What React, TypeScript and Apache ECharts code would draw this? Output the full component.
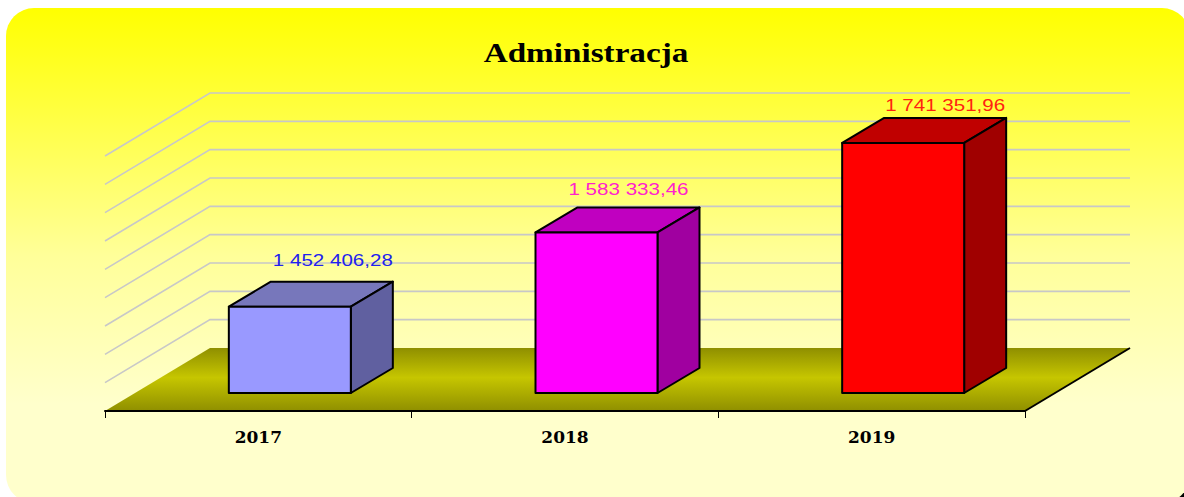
import React, { useEffect, useRef } from "react";
import * as echarts from "echarts";

const title = "Administracja";
const categories = ["2017", "2018", "2019"];
const values = [1452406.28, 1583333.46, 1741351.96];
const valueLabels = ["1 452 406,28", "1 583 333,46", "1 741 351,96"];
const frontColors = ["#9999ff", "#ff00ff", "#ff0000"];
const topColors = ["#7777bb", "#c000c0", "#c00000"];
const sideColors = ["#6060a0", "#a000a0", "#a00000"];
const labelColors = ["#2222ee", "#ff22cc", "#ff2211"];
const gridValues = [1350000, 1400000, 1450000, 1500000, 1550000, 1600000, 1650000, 1700000, 1750000];
const axisMin = 1300000;
const axisMax = 1750000;

const DX = 105;
const DY = -63;
const BAR_DX = 31.5;
const BAR_DY = -18;
const BAR_DEPTH_X = 42;
const BAR_DEPTH_Y = -25;
const BAR_W = 122;
const LINE = "#000000";
const LABEL_SHIFT_X = [43, 32, 42];
const LABEL_SHIFT_Y = [-21, -18, -13];

export default function App() {
  const ref = useRef<HTMLDivElement>(null);
  useEffect(() => {
    const chart = echarts.init(ref.current!, null, { renderer: "svg" });
    chart.setOption({
      animation: false,
      backgroundColor: "#ffffff",
      grid: { left: 105, right: 159, top: 156, bottom: 86 },
      graphic: [
        {
          type: "rect",
          z: -11,
          silent: true,
          shape: { x: 1170, y: 483, width: 14, height: 14 },
          style: { fill: "#000000" },
        },
        {
          type: "rect",
          z: -10,
          silent: true,
          shape: { x: 6, y: 8, width: 1184, height: 495, r: 28 },
          style: {
            fill: new echarts.graphic.LinearGradient(0, 0, 0, 1, [
              { offset: 0, color: "#ffff00" },
              { offset: 0.5, color: "#ffff99" },
              { offset: 0.8, color: "#ffffcc" },
              { offset: 1, color: "#ffffcc" },
            ]),
          },
        },
        {
          type: "text",
          x: 586,
          y: 53,
          scaleX: 1.186,
          z: 10,
          silent: true,
          style: {
            text: title,
            fill: "#000000",
            font: "bold 28px 'Liberation Serif'",
            textAlign: "center",
            textVerticalAlign: "middle",
          },
        },
      ],
      xAxis: {
        type: "category",
        data: categories,
        boundaryGap: true,
        axisLine: { show: true, lineStyle: { color: LINE, width: 2 } },
        axisTick: { show: true, length: 7, lineStyle: { color: LINE, width: 1 }, alignWithLabel: false },
        axisLabel: {
          margin: 17,
          color: "#000000",
          fontFamily: "DejaVu Serif",
          fontWeight: "bold",
          fontSize: 17,
        },
        z: 5,
      },
      yAxis: {
        type: "value",
        min: axisMin,
        max: axisMax,
        interval: 50000,
        show: false,
      },
      series: [
        {
          type: "custom",
          name: "floor",
          coordinateSystem: "cartesian2d",
          data: [[0, axisMin]],
          z: 1,
          silent: true,
          renderItem: (_p: any, api: any) => {
            const o = api.coord([0, axisMin]);
            const w = api.size([1, 0])[0] * categories.length;
            const x0 = o[0] - api.size([1, 0])[0] / 2;
            const y0 = o[1];
            return {
              type: "group",
              children: [
                {
                  type: "polygon",
                  shape: { points: [[x0, y0], [x0 + DX, y0 + DY], [x0 + DX + w, y0 + DY], [x0 + w, y0]] },
                  style: {
                    fill: new echarts.graphic.LinearGradient(0, 0, 0, 1, [
                      { offset: 0, color: "#8f8f00" },
                      { offset: 0.47, color: "#c6c600" },
                      { offset: 1, color: "#8f8f00" },
                    ]),
                  },
                },
                {
                  type: "line",
                  shape: { x1: x0 + w, y1: y0, x2: x0 + w + DX, y2: y0 + DY },
                  style: { stroke: LINE, lineWidth: 2 },
                },
              ],
            };
          },
        },
        {
          type: "custom",
          name: "grid",
          coordinateSystem: "cartesian2d",
          data: gridValues.map((v) => [0, v]),
          z: 2,
          silent: true,
          renderItem: (_p: any, api: any) => {
            const band = api.size([1, 0])[0];
            const p = api.coord([0, api.value(1)]);
            const x0 = p[0] - band / 2;
            const y0 = p[1];
            return {
              type: "polyline",
              shape: { points: [[x0, y0], [x0 + DX, y0 + DY], [x0 + DX + band * categories.length, y0 + DY]] },
              style: { stroke: "#c8c8c8", lineWidth: 1.6, fill: "none" },
            };
          },
        },
        {
          type: "custom",
          name: "bars",
          coordinateSystem: "cartesian2d",
          data: categories.map((_c, i) => [i, values[i]]),
          z: 3,
          silent: true,
          renderItem: (p: any, api: any) => {
            const i = p.dataIndex;
            const top = api.coord([i, api.value(1)]);
            const base = api.coord([i, axisMin]);
            const l = top[0] - BAR_W / 2 + BAR_DX;
            const r = l + BAR_W;
            const t = top[1] + BAR_DY;
            const b = base[1] + BAR_DY;
            const stroke = { stroke: LINE, lineWidth: 2, lineJoin: "round" };
            return {
              type: "group",
              children: [
                {
                  type: "polygon",
                  shape: { points: [[l, t], [l + BAR_DEPTH_X, t + BAR_DEPTH_Y], [r + BAR_DEPTH_X, t + BAR_DEPTH_Y], [r, t]] },
                  style: { fill: topColors[i], ...stroke },
                },
                {
                  type: "polygon",
                  shape: { points: [[r, t], [r + BAR_DEPTH_X, t + BAR_DEPTH_Y], [r + BAR_DEPTH_X, b + BAR_DEPTH_Y], [r, b]] },
                  style: { fill: sideColors[i], ...stroke },
                },
                {
                  type: "rect",
                  shape: { x: l, y: t, width: BAR_W, height: b - t },
                  style: { fill: frontColors[i], ...stroke },
                },
                {
                  type: "text",
                  x: l + BAR_W / 2 + LABEL_SHIFT_X[i],
                  y: t + BAR_DEPTH_Y + LABEL_SHIFT_Y[i],
                  scaleX: 1.21,
                  style: {
                    text: valueLabels[i],
                    fill: labelColors[i],
                    font: "17px 'Liberation Sans'",
                    textAlign: "center",
                    textVerticalAlign: "middle",
                  },
                },
              ],
            };
          },
        },
      ],
    });
    return () => chart.dispose();
  }, []);
  return <div ref={ref} style={{ position: "fixed", left: 0, top: 0, width: 1184, height: 497 }} />;
}
